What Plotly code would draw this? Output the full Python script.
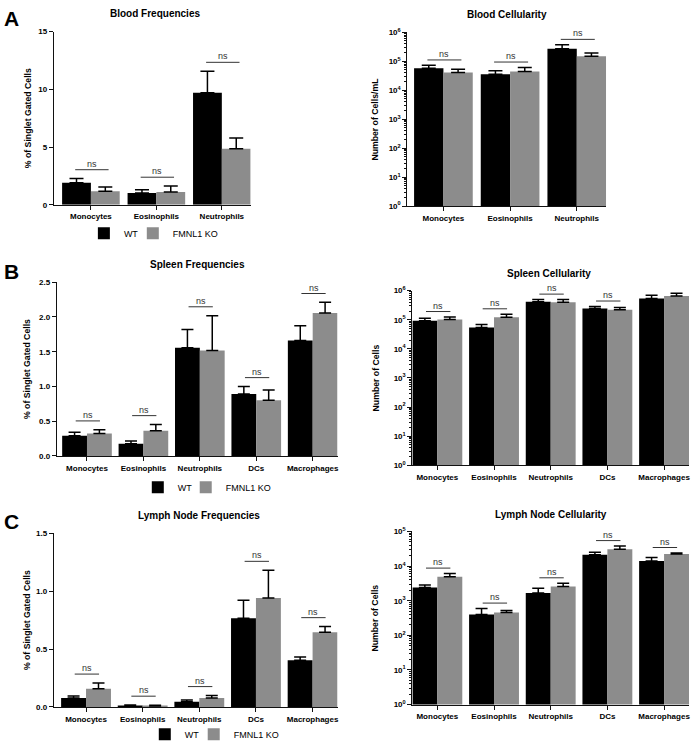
import math
import plotly.graph_objects as go

W, H = 692, 749
FONT = "Liberation Sans, Arial, Helvetica, sans-serif"

# ---------------- data ----------------
cats3 = ["Monocytes", "Eosinophils", "Neutrophils"]
cats5 = ["Monocytes", "Eosinophils", "Neutrophils", "DCs", "Macrophages"]
groups = ["WT", "FMNL1 KO"]

blood_freq_wt = [1.9, 1.02, 9.7]
blood_freq_wt_sem = [0.37, 0.28, 1.87]
blood_freq_ko = [1.16, 1.1, 4.85]
blood_freq_ko_sem = [0.37, 0.52, 0.93]

blood_cell_wt = [5.7e4, 3.56e4, 2.7e5]
blood_cell_wt_sem = [1.5e4, 1.14e4, 1.0e5]
blood_cell_ko = [4.06e4, 4.4e4, 1.49e5]
blood_cell_ko_sem = [1.24e4, 1.7e4, 4.5e4]

spleen_freq_wt = [0.29, 0.175, 1.557, 0.89, 1.66]
spleen_freq_wt_sem = [0.05, 0.042, 0.263, 0.11, 0.213]
spleen_freq_ko = [0.325, 0.363, 1.519, 0.80, 2.057]
spleen_freq_ko_sem = [0.052, 0.09, 0.50, 0.148, 0.153]

spleen_cell_wt = [9.2e4, 5.46e4, 4.13e5, 2.46e5, 5.37e5]
spleen_cell_wt_sem = [2.1e4, 1.44e4, 8.3e4, 4.1e4, 1.53e5]
spleen_cell_ko = [1.02e5, 1.22e5, 4.03e5, 2.22e5, 6.6e5]
spleen_cell_ko_sem = [2.3e4, 3.3e4, 9.3e4, 4.3e4, 1.5e5]

lymph_freq_wt = [0.077, 0.012, 0.045, 0.766, 0.403]
lymph_freq_wt_sem = [0.017, 0.004, 0.015, 0.155, 0.028]
lymph_freq_ko = [0.156, 0.008, 0.077, 0.941, 0.646]
lymph_freq_ko_sem = [0.051, 0.006, 0.022, 0.241, 0.049]

lymph_cell_wt = [2.4e3, 402, 1.66e3, 2.12e4, 1.4e4]
lymph_cell_wt_sem = [460, 194, 640, 3.8e3, 3.8e3]
lymph_cell_ko = [4.93e3, 458, 2.56e3, 3.08e4, 2.22e4]
lymph_cell_ko_sem = [1.17e3, 64, 640, 7.2e3, 1.8e3]

sig_labels3 = ["ns", "ns", "ns"]
sig_labels5 = ["ns", "ns", "ns", "ns", "ns"]

# ---------------- layout helpers ----------------
def px(x):
    return x / W

def py(y):
    return 1 - y / H

panels = [
    dict(title="Blood Frequencies", cats=cats3, wt=blood_freq_wt, wts=blood_freq_wt_sem,
         ko=blood_freq_ko, kos=blood_freq_ko_sem, sig=sig_labels3, log=False,
         yrange=[0, 15], dtick=5, fmt="d", ytitle="% of Singlet Gated Cells",
         box=(54, 251, 26, 202), xr=[-0.565, 2.44], tpos=(155, 8), cap=7, half=0.24,
         ytx=28, legends=("legend", "legend4"), letter=("A", 13)),
    dict(title="Blood Cellularity", cats=cats3, wt=blood_cell_wt, wts=blood_cell_wt_sem,
         ko=blood_cell_ko, kos=blood_cell_ko_sem, sig=sig_labels3, log=True,
         yrange=[0, 6], ytitle="Number of Cells/mL",
         box=(408, 607, 26.7, 203.3), xr=[-0.54, 2.44], tpos=(508, 9), cap=7, half=0.24,
         ytx=376, legends=None, letter=None),
    dict(title="Spleen Frequencies", cats=cats5, wt=spleen_freq_wt, wts=spleen_freq_wt_sem,
         ko=spleen_freq_ko, kos=spleen_freq_ko_sem, sig=sig_labels5, log=False,
         yrange=[0, 2.5], dtick=0.5, fmt=".1f", ytitle="% of Singlet Gated Cells",
         box=(57, 338, 280.7, 457.3), xr=[-0.533, 4.44], tpos=(198, 263), cap=6, half=0.2,
         ytx=27, legends=("legend2", "legend5"), letter=("B", 270)),
    dict(title="Spleen Cellularity", cats=cats5, wt=spleen_cell_wt, wts=spleen_cell_wt_sem,
         ko=spleen_cell_ko, kos=spleen_cell_ko_sem, sig=sig_labels5, log=True,
         yrange=[0, 6], ytitle="Number of Cells",
         box=(413, 690, 289.3, 466.7), xr=[-0.44, 4.44], tpos=(550, 272), cap=6, half=0.2,
         ytx=376, legends=None, letter=None),
    dict(title="Lymph Node Frequencies", cats=cats5, wt=lymph_freq_wt, wts=lymph_freq_wt_sem,
         ko=lymph_freq_ko, kos=lymph_freq_ko_sem, sig=sig_labels5, log=False,
         yrange=[0, 1.5], dtick=0.5, fmt=".1f", ytitle="% of Singlet Gated Cells",
         box=(54, 338, 536, 712.3), xr=[-0.567, 4.44], tpos=(199, 518), cap=6, half=0.2,
         ytx=27, legends=("legend3", "legend6"), letter=("C", 524)),
    dict(title="Lymph Node Cellularity", cats=cats5, wt=lymph_cell_wt, wts=lymph_cell_wt_sem,
         ko=lymph_cell_ko, kos=lymph_cell_ko_sem, sig=sig_labels5, log=True,
         yrange=[0, 5], ytitle="Number of Cells",
         box=(413, 690, 534, 710), xr=[-0.44, 4.44], tpos=(552, 517), cap=6, half=0.2,
         ytx=376, legends=None, letter=None),
]

# legend boxes: (left x of legend, vertical centre) in pixels
legend_pos = {
    "legend": (84, 231), "legend4": (133, 231),
    "legend2": (138, 489), "legend5": (186, 489),
    "legend3": (145, 740), "legend6": (194, 740),
}

BLACK = "#000000"
GREY = "#8c8c8c"

fig = go.Figure()
annotations = []
shapes = []
layout = dict(
    width=W, height=H,
    margin=dict(l=0, r=0, t=0, b=0),
    paper_bgcolor="white", plot_bgcolor="white",
    barmode="group", bargap=0.12, bargroupgap=0,
    font=dict(family=FONT, color="#000000", size=9),
)

axis_common = dict(showline=True, linecolor="#111111", linewidth=1.2, ticks="outside",
                   tickwidth=1.2, tickcolor="#111111", showgrid=False, zeroline=False)

for k, p in enumerate(panels, start=1):
    xa = "x" if k == 1 else f"x{k}"
    ya = "y" if k == 1 else f"y{k}"
    xkey = "xaxis" if k == 1 else f"xaxis{k}"
    ykey = "yaxis" if k == 1 else f"yaxis{k}"
    x0, x1, y0, y1 = p["box"]
    n = len(p["cats"])

    series = [(groups[0], p["wt"], p["wts"], BLACK), (groups[1], p["ko"], p["kos"], GREY)]
    for j, (name, vals, sems, col) in enumerate(series):
        tr = dict(x=p["cats"], y=vals, name=name, xaxis=xa, yaxis=ya,
                  marker=dict(color=col, line=dict(width=0)),
                  error_y=dict(type="data", array=sems, arrayminus=[0] * n,
                               symmetric=False, color="#000000", thickness=1.5,
                               width=p["cap"]),
                  showlegend=p["legends"] is not None, hoverinfo="skip")
        if p["legends"] is not None:
            tr["legend"] = p["legends"][j]
        fig.add_trace(go.Bar(**tr))

    layout[xkey] = dict(axis_common, type="category", domain=[px(x0), px(x1)],
                        range=p["xr"], anchor=ya, ticklen=4,
                        tickfont=dict(family=FONT, size=8, weight="bold"))
    if p["log"]:
        lo, hi = p["yrange"]
        majors = [10 ** e for e in range(lo, hi + 1)]
        minors = [m * 10 ** e for e in range(lo, hi) for m in range(2, 10)]
        layout[ykey] = dict(axis_common, type="log", domain=[py(y1), py(y0)],
                            range=p["yrange"], anchor=xa, ticklen=4,
                            tickmode="array", tickvals=majors,
                            ticktext=[f"10<sup>{e}</sup>" for e in range(lo, hi + 1)],
                            minor=dict(ticks="outside", ticklen=2, tickwidth=1,
                                       tickcolor="#111111", tickmode="array",
                                       tickvals=minors, showgrid=False),
                            tickfont=dict(family=FONT, size=8, weight="bold"))
    else:
        layout[ykey] = dict(axis_common, type="linear", domain=[py(y1), py(y0)],
                            range=p["yrange"], anchor=xa, dtick=p["dtick"], ticklen=4,
                            tickformat=p["fmt"],
                            tickfont=dict(family=FONT, size=8, weight="bold"))

    # significance brackets
    hpx = y1 - y0
    span = p["yrange"][1] - p["yrange"][0]
    for i in range(n):
        top = max(p["wt"][i] + p["wts"][i], p["ko"][i] + p["kos"][i])
        if p["log"]:
            yl_axis = math.log10(top) + 5.5 * span / hpx   # annotation coords (log units)
            yl_shape = 10 ** yl_axis                         # shape coords (data units)
        else:
            yl_axis = top + 9 * span / hpx
            yl_shape = yl_axis
        shapes.append(dict(type="line", xref=xa, yref=ya, x0=i - p["half"], x1=i + p["half"] + 0.03,
                           y0=yl_shape, y1=yl_shape, line=dict(color="#333333", width=1)))
        annotations.append(dict(x=i + 0.015, y=yl_axis, xref=xa, yref=ya, text=p["sig"][i],
                                showarrow=False, yanchor="bottom", yshift=-1,
                                font=dict(family=FONT, size=9, color="#333333")))

    # panel title
    annotations.append(dict(x=px(p["tpos"][0]), y=py(p["tpos"][1]), xref="paper", yref="paper",
                            text=p["title"], showarrow=False, xanchor="center", yanchor="middle",
                            font=dict(family=FONT, size=10, weight="bold")))
    # y-axis title
    annotations.append(dict(x=px(p["ytx"]), y=py((y0 + y1) / 2), xref="paper", yref="paper",
                            text=p["ytitle"], showarrow=False, textangle=-90,
                            xanchor="center", yanchor="middle",
                            font=dict(family=FONT, size=8.7, weight="bold")))
    if p["letter"]:
        annotations.append(dict(x=px(2), y=py(p["letter"][1]), xref="paper", yref="paper",
                                text=p["letter"][0], showarrow=False, xanchor="left",
                                yanchor="middle",
                                font=dict(family=FONT, size=21, weight="bold")))
    if p["legends"]:
        for lg in p["legends"]:
            lx, ly = legend_pos[lg]
            layout[lg] = dict(orientation="h", x=px(lx), y=py(ly), xanchor="left",
                              yanchor="middle", bgcolor="rgba(0,0,0,0)",
                              font=dict(family=FONT, size=9),
                              itemclick=False, itemdoubleclick=False)

layout["annotations"] = annotations
layout["shapes"] = shapes
fig.update_layout(**layout)
fig.write_html("out.html",
               config={"displayModeBar": False},
               post_script="document.body.style.margin='0px';document.body.style.overflow='hidden';")
